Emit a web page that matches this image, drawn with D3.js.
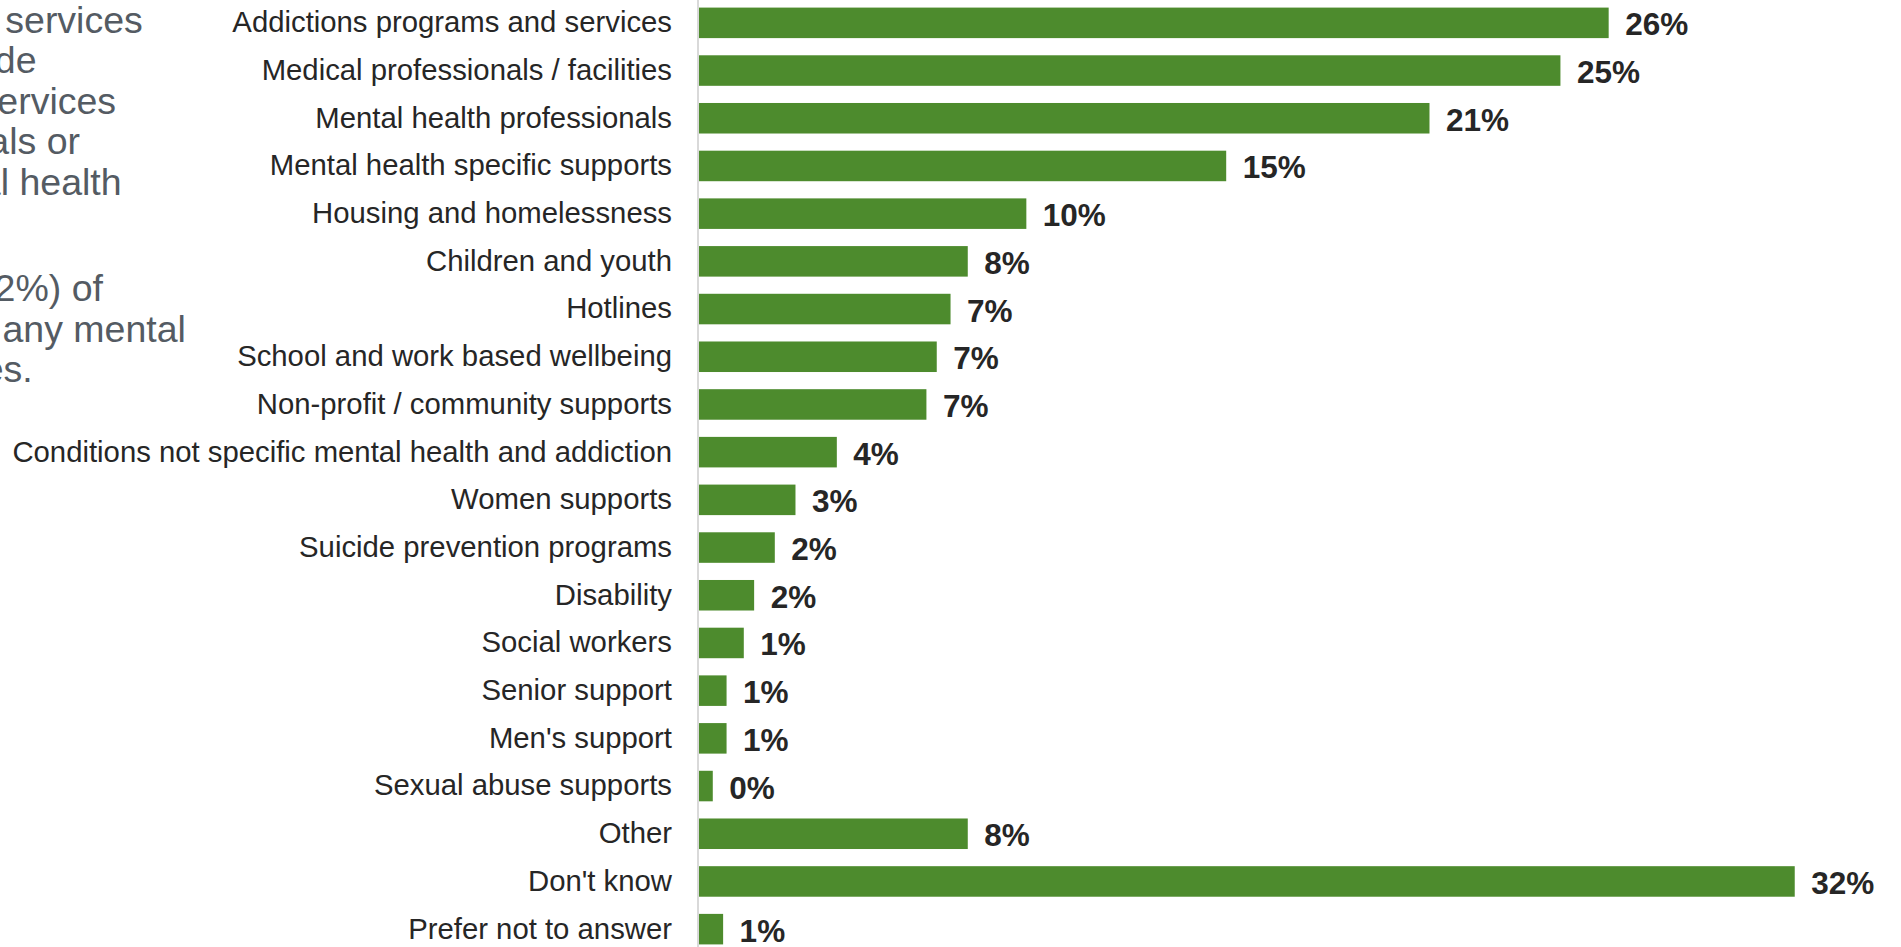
<!DOCTYPE html>
<html>
<head>
<meta charset="utf-8">
<script src="https://cdn.jsdelivr.net/npm/d3@7"></script>
<style>
  html, body { margin: 0; padding: 0; background: #ffffff; }
  svg { display: block; }
</style>
</head>
<body>
<svg id="chart" width="1901" height="947"></svg>
<script>
// ---- data ----
const categories = [
  "Addictions programs and services",
  "Medical professionals / facilities",
  "Mental health professionals",
  "Mental health specific supports",
  "Housing and homelessness",
  "Children and youth",
  "Hotlines",
  "School and work based wellbeing",
  "Non-profit / community supports",
  "Conditions not specific mental health and addiction",
  "Women supports",
  "Suicide prevention programs",
  "Disability",
  "Social workers",
  "Senior support",
  "Men's support",
  "Sexual abuse supports",
  "Other",
  "Don't know",
  "Prefer not to answer"
];
const values = [26.4, 25.0, 21.2, 15.3, 9.5, 7.8, 7.3, 6.9, 6.6, 4.0, 2.8, 2.2, 1.6, 1.3, 0.8, 0.8, 0.4, 7.8, 31.8, 0.7];
const valueLabels = ["26%", "25%", "21%", "15%", "10%", "8%", "7%", "7%", "7%", "4%", "3%", "2%", "2%", "1%", "1%", "1%", "0%", "8%", "32%", "1%"];
const noteParagraph1 = [
  "Top-of-mind services",
  "and programs include",
  "addictions programs and services",
  "medical professionals or",
  "facilities, and mental health"
];
const noteParagraph2 = [
  "Almost one-third (32%) of",
  "respondents don't know of any mental",
  "health and addictions services."
];

// ---- drawing ----
const svg = d3.select("#chart");
const axisX = 697.5;

const x = d3.scaleLinear().domain([0, 35]).range([699, 1905]);
const y = d3.scaleBand().domain(categories).range([-1, 953])
  .paddingInner(0.36).paddingOuter(0.18);

const rows = categories.map((c, i) => ({ cat: c, v: values[i], lab: valueLabels[i] }));

// note text on the left (clipped by the page edge)
const noteEnds1 = [142.8, 36.5, 116.1, 80, 121.6];
const noteEnds2 = [103, 185.9, 32.7];
const note = svg.append("g")
  .attr("font-family", "'Liberation Sans', Arial, sans-serif")
  .attr("font-size", 37.5)
  .attr("fill", "#545b63")
  .attr("text-anchor", "end");
note.selectAll("text.p1").data(noteParagraph1).join("text")
  .attr("class", "p1")
  .attr("x", (d, i) => noteEnds1[i])
  .attr("y", (d, i) => 32.5 + i * 40.5)
  .text(d => d);
note.selectAll("text.p2").data(noteParagraph2).join("text")
  .attr("class", "p2")
  .attr("x", (d, i) => noteEnds2[i])
  .attr("y", (d, i) => 301 + i * 40.5)
  .text(d => d);

// bars
svg.append("g").selectAll("rect").data(rows).join("rect")
  .attr("x", x(0))
  .attr("y", d => y(d.cat))
  .attr("width", d => x(d.v) - x(0))
  .attr("height", y.bandwidth())
  .attr("fill", "#4d8b2d");

// category axis
const axis = svg.append("g")
  .attr("transform", `translate(${axisX},0)`)
  .call(d3.axisLeft(y).tickSize(0).tickSizeOuter(0).tickPadding(25.5));
axis.select(".domain").attr("stroke", "#d9d9d9").attr("stroke-width", 2);
axis.selectAll(".tick text")
  .attr("font-family", "'Liberation Sans', Arial, sans-serif")
  .attr("font-size", 29.3)
  .attr("fill", "#262626")
  .attr("dy", "0.32em");

// value labels
svg.append("g").selectAll("text").data(rows).join("text")
  .attr("x", d => x(d.v) + 16.5)
  .attr("y", d => y(d.cat) + y.bandwidth() / 2 + 12.5)
  .attr("font-family", "'Liberation Sans', Arial, sans-serif")
  .attr("font-weight", "bold")
  .attr("font-size", 31.5)
  .attr("fill", "#262626")
  .text(d => d.lab);
</script>
</body>
</html>
